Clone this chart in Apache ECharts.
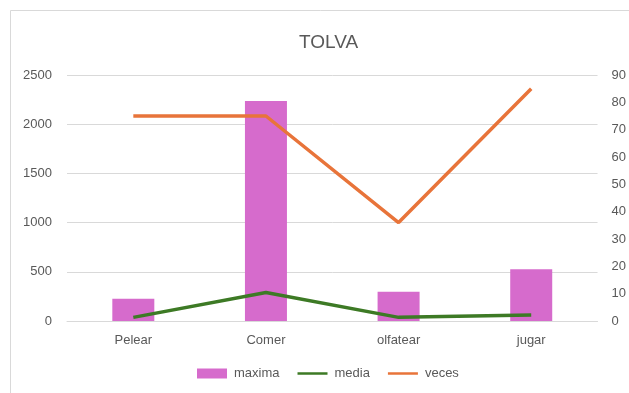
<!DOCTYPE html>
<html>
<head>
<meta charset="utf-8">
<script src="https://cdn.jsdelivr.net/npm/echarts@6/dist/echarts.min.js"></script>
<style>html,body{margin:0;padding:0;background:#fff;}#c{width:629px;height:393px;}</style>
</head>
<body>
<div id="c"></div>
<script>
const categories = ['Pelear', 'Comer', 'olfatear', 'jugar'];
const maxima = [227, 2235, 298, 525];
const media = [37, 290, 37, 60];
const veces = [75, 75, 36, 85];
const leftTicks = { min: 0, max: 2500, interval: 500 };
const rightTicks = { min: 0, max: 90, interval: 10 };

const chart = echarts.init(document.getElementById('c'), null, { renderer: 'canvas' });
const font = 'Liberation Sans, Arial, sans-serif';
const plain = v => String(v);
chart.setOption({
  animation: false,
  backgroundColor: '#fff',
  graphic: [{
    type: 'rect', shape: { x: 10.5, y: 10.5, width: 700, height: 500 },
    style: { fill: 'none', stroke: '#d9d9d9', lineWidth: 1 }, silent: true, z: -10
  }],
  title: {
    text: 'TOLVA', left: 294, top: 28,
    textStyle: { fontFamily: font, fontSize: 19, fontWeight: 'normal', color: '#595959' }
  },
  legend: {
    bottom: 8, left: 192, itemGap: 18, itemWidth: 30, itemHeight: 10,
    textStyle: { fontFamily: font, fontSize: 13, color: '#595959', padding: [0, 0, 0, 2] },
    data: [
      { name: 'maxima', icon: 'rect' },
      { name: 'media', icon: 'path://M0,4 L30,4 L30,6.5 L0,6.5 Z' },
      { name: 'veces', icon: 'path://M0,4 L30,4 L30,6.5 L0,6.5 Z' }
    ]
  },
  grid: { left: 67, right: 29, top: 75, bottom: 72 },
  xAxis: {
    type: 'category', data: categories,
    axisLine: { show: true, lineStyle: { color: '#d9d9d9' } },
    axisTick: { show: false },
    axisLabel: { fontFamily: font, fontSize: 13, color: '#595959', margin: 13 }
  },
  yAxis: [{
    type: 'value', min: leftTicks.min, max: leftTicks.max, interval: leftTicks.interval,
    axisLine: { show: false }, axisTick: { show: false },
    splitLine: { lineStyle: { color: '#d9d9d9' } },
    axisLabel: { fontFamily: font, fontSize: 13, color: '#595959', margin: 15, formatter: plain }
  }, {
    type: 'value', min: rightTicks.min, max: rightTicks.max, interval: rightTicks.interval,
    axisLine: { show: false }, axisTick: { show: false }, splitLine: { show: false },
    axisLabel: { fontFamily: font, fontSize: 13, color: '#595959', margin: 14, formatter: plain }
  }],
  series: [{
    name: 'maxima', type: 'bar', data: maxima, barWidth: 42,
    itemStyle: { color: '#D66BCC' }
  }, {
    name: 'media', type: 'line', data: media, yAxisIndex: 0,
    symbol: 'none', lineStyle: { color: '#3D7A25', width: 3.5 }, itemStyle: { color: '#3D7A25' }
  }, {
    name: 'veces', type: 'line', data: veces, yAxisIndex: 1,
    symbol: 'none', lineStyle: { color: '#E8743A', width: 3.5 }, itemStyle: { color: '#E8743A' }
  }]
});
</script>
</body>
</html>
